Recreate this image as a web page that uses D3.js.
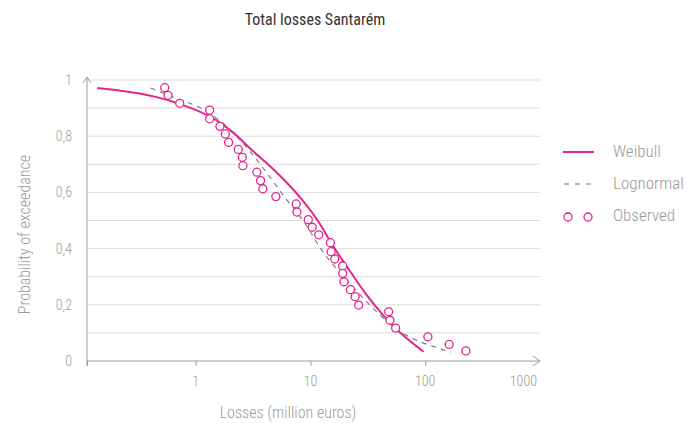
<!DOCTYPE html>
<html><head><meta charset="utf-8">
<script src="https://cdn.jsdelivr.net/npm/d3@7"></script>
<style>
body{margin:0;background:#fff;}
text{font-family:'Roboto Condensed','Liberation Sans Narrow','Roboto',sans-serif;font-weight:300;}
</style></head>
<body><svg id="c" width="687" height="429"></svg>
<script>
const title = "Total losses Santarém";
const xLabel = "Losses (million euros)";
const yLabel = "Probability of exceedance";
const xTicks = [1, 10, 100, 1000];
const yTicks = [0, 0.2, 0.4, 0.6, 0.8, 1];
const yGrid = [0.1,0.2,0.3,0.4,0.5,0.6,0.7,0.8,0.9,1];
const seriesNames = ["Weibull", "Lognormal", "Observed"];

const weibullX = [0.1386,0.2333,0.455,0.726,1.083,1.514,1.976,2.413,3.151,4.40,6.15,8.57,11.97,15.63,21.83,30.5,42.5,59.4,96.7];
const weibullY = [0.9715,0.962,0.942,0.915,0.889,0.859,0.823,0.794,0.745,0.697,0.638,0.573,0.496,0.407,0.324,0.235,0.164,0.1,0.033];

const lognormX = [0.404,0.726,1.083,1.617,2.259,3.85,6.15,9.18,11.5,15.63,23.3,34.8,52.0,77.6,167.3];
const lognormY = [0.9715,0.930,0.906,0.859,0.805,0.691,0.573,0.49,0.413,0.342,0.264,0.1875,0.122,0.0747,0.031];

const obsX = [0.5375,0.574,0.726,1.323,1.323,1.626,1.813,1.936,2.351,2.548,2.578,3.41,3.674,3.847,4.993,7.51,7.63,9.57,10.35,11.81,14.93,15.14,16.27,19.1,19.1,19.6,22.28,24.5,26.3,48.0,49.3,55.2,105.5,161.7,225.9];
const obsY = [0.9726,0.9456,0.917,0.893,0.862,0.835,0.808,0.778,0.753,0.725,0.695,0.672,0.642,0.613,0.585,0.559,0.530,0.503,0.476,0.449,0.421,0.389,0.363,0.338,0.312,0.282,0.254,0.229,0.199,0.175,0.145,0.117,0.086,0.059,0.036];

const pink = "#e3258c";
const grey = "#9a9a9a";
const svg = d3.select("#c");
const x = d3.scaleLog().domain([0.113, 1000]).range([87, 540]);
const y = d3.scaleLinear().domain([0, 1]).range([361, 80]);

// title
svg.append("text").attr("x", 315).attr("y", 25).attr("text-anchor","middle")
  .attr("font-size", 16).attr("fill", "#333").style("font-weight", 400).text(title);

// grid
svg.append("g").selectAll("line").data(yGrid).join("line")
  .attr("x1", x(0.113)).attr("x2", x(1000)).attr("y1", d=>y(d)).attr("y2", d=>y(d))
  .attr("stroke", "#dcdcdc").attr("stroke-width", 1);

// x axis
const xa = svg.append("g").attr("transform", `translate(0,${y(0)})`)
  .call(d3.axisBottom(x).tickValues([0.113, 1, 10, 100]).tickSize(5).tickFormat(""));
xa.select(".domain").attr("stroke", grey).attr("d", `M${x(0.113)},0H${x(1000)}`);
xa.selectAll(".tick line").attr("stroke", grey);
svg.append("path").attr("d", `M${x(1000)-7},${y(0)-5}L${x(1000)},${y(0)}L${x(1000)-7},${y(0)+5}`)
  .attr("fill","none").attr("stroke",grey);
svg.append("g").selectAll("text").data(xTicks).join("text")
  .attr("x", d => d === 1000 ? x(d) - 3 : x(d))
  .attr("y", y(0) + 25)
  .attr("text-anchor", d => d === 1000 ? "end" : "middle")
  .attr("font-size", 14).attr("fill", grey).text(d => d);

// y axis
svg.append("line").attr("x1", x(0.113)).attr("x2", x(0.113)).attr("y1", y(0)+5).attr("y2", y(1)-3)
  .attr("stroke", grey);
svg.append("path").attr("d", `M${x(0.113)-4},${y(1)+3}L${x(0.113)},${y(1)-3}L${x(0.113)+4},${y(1)+3}`)
  .attr("fill","none").attr("stroke",grey);
svg.append("g").selectAll("text").data(yTicks).join("text")
  .attr("x", 72).attr("y", d => y(d) + 5).attr("text-anchor","end")
  .attr("font-size", 14).attr("fill", grey)
  .text(d => d === 0 || d === 1 ? d : String(d).replace(".", ","));

svg.append("text").attr("transform", `translate(30,${y(0.45)}) rotate(-90)`)
  .attr("text-anchor","middle").attr("font-size", 16).attr("fill", grey).text(yLabel);
svg.append("text").attr("x", 288).attr("y", 418).attr("text-anchor","middle")
  .attr("font-size", 16).attr("fill", grey).text(xLabel);

// series
const line = d3.line().x(d=>x(d[0])).y(d=>y(d[1])).curve(d3.curveBasis);
svg.append("path").datum(lognormX.map((v,i)=>[v,lognormY[i]]))
  .attr("d", line).attr("fill","none").attr("stroke","#777").attr("stroke-width",1.1)
  .attr("stroke-dasharray","5,5");
svg.append("path").datum(weibullX.map((v,i)=>[v,weibullY[i]]))
  .attr("d", line).attr("fill","none").attr("stroke",pink).attr("stroke-width",2);
svg.append("g").selectAll("circle").data(obsX.map((v,i)=>[v,obsY[i]])).join("circle")
  .attr("cx", d=>x(d[0])).attr("cy", d=>y(d[1])).attr("r", 4)
  .attr("fill","#fff").attr("stroke",pink).attr("stroke-width",1.3);

// legend
const lg = svg.append("g");
lg.append("line").attr("x1",563).attr("x2",594).attr("y1",152).attr("y2",152).attr("stroke",pink).attr("stroke-width",2);
lg.append("line").attr("x1",564).attr("x2",594).attr("y1",184).attr("y2",184).attr("stroke","#777").attr("stroke-width",1.1).attr("stroke-dasharray","5,6");
lg.selectAll("circle").data([568, 588]).join("circle").attr("cx", d=>d).attr("cy", 217).attr("r", 4)
  .attr("fill","#fff").attr("stroke",pink).attr("stroke-width",1.3);
lg.selectAll("text").data(seriesNames).join("text")
  .attr("x", 613).attr("y", (d,i)=>157 + i*32).attr("font-size", 17).attr("fill",grey).text(d=>d);
</script></body></html>
